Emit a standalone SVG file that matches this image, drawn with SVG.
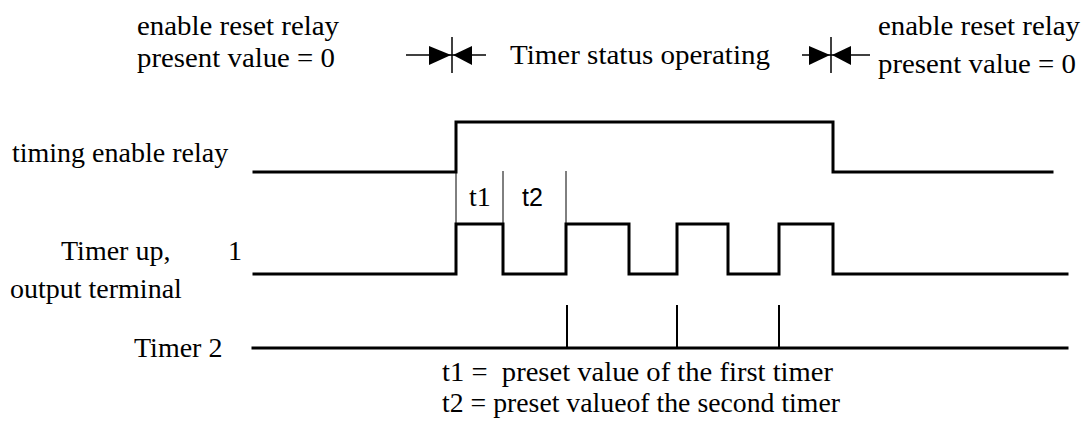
<svg xmlns="http://www.w3.org/2000/svg" width="1086" height="423" viewBox="0 0 1086 423">
<style>
text{font-family:"Liberation Serif","Times New Roman",serif;font-size:28px;fill:#000}
.sans{font-family:"Liberation Sans",Arial,sans-serif;font-size:25px}
.sig{fill:none;stroke:#000;stroke-width:3;stroke-linejoin:miter;stroke-linecap:square}
.thin{fill:none;stroke:#000;stroke-width:1}
.tick{fill:none;stroke:#000;stroke-width:2}
.tri{fill:#000;stroke:none}
</style>
<rect width="1086" height="423" fill="#fff"/>
<g id="left-state">
<text x="137" y="35" textLength="202" lengthAdjust="spacingAndGlyphs">enable reset relay</text>
<text x="137" y="67" textLength="198" lengthAdjust="spacingAndGlyphs">present value = 0</text>
</g>
<g id="marker-start">
<line class="thin" x1="406" y1="55" x2="486" y2="55" style="stroke-width:1.5"/>
<line class="thin" x1="452" y1="37" x2="452" y2="73" style="stroke-width:1.5"/>
<polygon class="tri" points="429,46 451,55 429,65"/>
<polygon class="tri" points="472,46 453,55 472,65"/>
</g>
<g id="operating-label">
<text x="510" y="64" textLength="260" lengthAdjust="spacingAndGlyphs">Timer status operating</text>
</g>
<g id="marker-end">
<line class="thin" x1="802" y1="55" x2="870" y2="55" style="stroke-width:1.5"/>
<line class="thin" x1="831" y1="37" x2="831" y2="73" style="stroke-width:1.5"/>
<polygon class="tri" points="809,46 830,55 809,65"/>
<polygon class="tri" points="851,46 832,55 851,65"/>
</g>
<g id="right-state">
<text x="878" y="35" textLength="202" lengthAdjust="spacingAndGlyphs">enable reset relay</text>
<text x="878" y="73" textLength="198" lengthAdjust="spacingAndGlyphs">present value = 0</text>
</g>
<g id="timing-enable-relay">
<text x="12" y="162">timing enable relay</text>
<polyline class="sig" points="254,172 456,172 456,122 833,122 833,172 1052,172"/>
</g>
<g id="timer-up">
<text x="61" y="260">Timer up,</text>
<text x="228" y="260">1</text>
<text x="10" y="298">output terminal</text>
<polyline class="sig" points="254,274 456,274 456,224 503,224 503,274 566,274 566,224 629,224 629,274 677,274 677,224 728,224 728,274 779,274 779,224 833,224 833,274 1067,274"/>
</g>
<g id="intervals">
<line class="thin" x1="456" y1="172" x2="456" y2="224"/>
<line class="thin" x1="503" y1="171" x2="503" y2="224"/>
<line class="thin" x1="566" y1="171" x2="566" y2="224"/>
<text x="469" y="206">t1</text>
<text class="sans" x="522" y="206">t2</text>
</g>
<g id="timer-2">
<text x="134" y="357">Timer 2</text>
<line class="sig" x1="253" y1="348" x2="1067" y2="348"/>
<line class="tick" x1="567" y1="305" x2="567" y2="348"/>
<line class="tick" x1="677" y1="305" x2="677" y2="348"/>
<line class="tick" x1="779" y1="305" x2="779" y2="348"/>
</g>
<g id="legend">
<text x="442" y="381" xml:space="preserve" textLength="391" lengthAdjust="spacingAndGlyphs">t1 =  preset value of the first timer</text>
<text x="442" y="412" textLength="398" lengthAdjust="spacingAndGlyphs">t2 = preset valueof the second timer</text>
</g>
</svg>
